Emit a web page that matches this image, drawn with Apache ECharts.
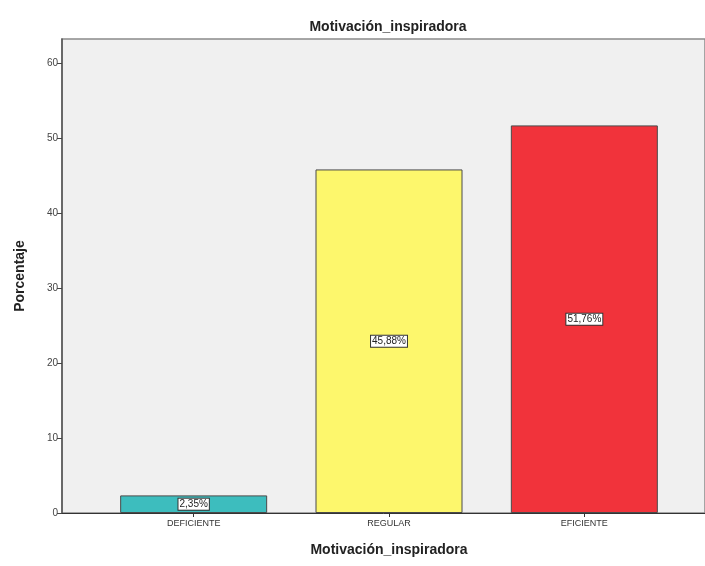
<!DOCTYPE html>
<html>
<head>
<meta charset="utf-8">
<script src="https://cdn.jsdelivr.net/npm/echarts@6/dist/echarts.min.js"></script>
<style>
  html, body { margin: 0; padding: 0; background: #fff; }
  #chart { width: 705px; height: 566px; }
</style>
</head>
<body>
<div id="chart"></div>
<script>
// datos
const categorias = ["DEFICIENTE", "REGULAR", "EFICIENTE"];
const porcentajes = [2.35, 45.88, 51.76];
const etiquetas = ["2,35%", "45,88%", "51,76%"];
const colores = ["#3DBDBE", "#FDF76C", "#F1333B"];

const yMax = 63.3;
const fuente = "Liberation Sans, Arial, sans-serif";

const chart = echarts.init(document.getElementById("chart"));

chart.setOption({
    animation: false,
    backgroundColor: "#ffffff",
    title: {
        text: "Motivación_inspiradora",
        left: 383,
        textAlign: "center",
        top: 15,
        textStyle: {fontFamily: fuente, fontSize: 14, fontWeight: "bold", color: "#222"}
    },
    grid: [
        {   // area del grafico con fondo gris
            left: 62, top: 39, right: -5, bottom: 53,
            show: true, backgroundColor: "#F0F0F0",
            borderColor: "#8a8a8a", borderWidth: 1.5
        },
        {   // barras
            left: 96, top: 39, right: 23, bottom: 53
        }
    ],
    xAxis: [
        {
            gridIndex: 0, type: "value", min: 0, max: 1,
            axisLine: {show: true, lineStyle: {color: "#333", width: 1}},
            axisTick: {show: false}, axisLabel: {show: false}, splitLine: {show: false}
        },
        {
            gridIndex: 1, type: "category", data: categorias,
            axisLine: {show: false},
            axisTick: {show: true, alignWithLabel: true, length: 4, lineStyle: {color: "#333"}},
            axisLabel: {fontFamily: fuente, fontSize: 9, color: "#333", margin: 6},
            name: "Motivación_inspiradora",
            nameLocation: "middle", nameGap: 30,
            nameTextStyle: {fontFamily: fuente, fontSize: 14, fontWeight: "bold", color: "#222"}
        }
    ],
    yAxis: [
        {
            gridIndex: 0, type: "value", min: 0, max: yMax, interval: 10,
            axisLine: {show: true, lineStyle: {color: "#555", width: 1.5}},
            axisTick: {show: true, length: 5, lineStyle: {color: "#444"}},
            axisLabel: {fontFamily: fuente, fontSize: 10, color: "#444", margin: 4, showMaxLabel: false},
            splitLine: {show: false},
            name: "Porcentaje", nameLocation: "middle", nameGap: 35, nameRotate: 90,
            nameTextStyle: {fontFamily: fuente, fontSize: 14, fontWeight: "bold", color: "#222"}
        },
        {
            gridIndex: 1, type: "value", min: 0, max: yMax, show: false
        }
    ],
    series: [{
        type: "bar",
        xAxisIndex: 1, yAxisIndex: 1,
        barWidth: 147,
        data: porcentajes.map((v, i) => ({
            value: v,
            itemStyle: {color: colores[i], borderColor: "#4a4a4a", borderWidth: 1}
        })),
        label: {
            show: true,
            position: "inside",
            formatter: p => etiquetas[p.dataIndex],
            fontFamily: fuente, fontSize: 10, color: "#222",
            backgroundColor: "#ffffff",
            borderColor: "#333", borderWidth: 1,
            padding: [1, 1, 0, 1]
        }
    }]
});
</script>
</body>
</html>
